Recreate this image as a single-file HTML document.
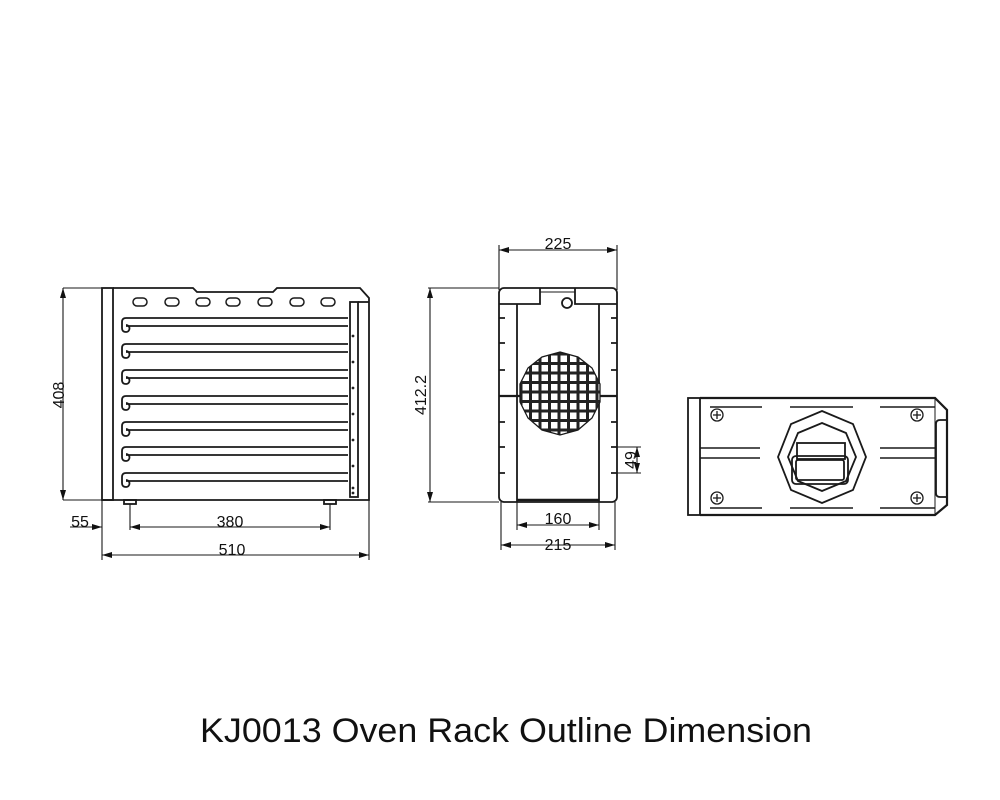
<!DOCTYPE html>
<html><head><meta charset="utf-8"><style>
html,body{margin:0;padding:0;background:#fff;}
svg{display:block}
text{font-family:"Liberation Sans",sans-serif;fill:#111}
</style></head><body>
<svg width="1000" height="800" viewBox="0 0 1000 800" xmlns="http://www.w3.org/2000/svg">
<defs>
<marker id="a" viewBox="0 0 10 6" refX="10" refY="3" markerWidth="10" markerHeight="6" orient="auto-start-reverse" markerUnits="userSpaceOnUse"><path d="M0,0 L10,3 L0,6 z" fill="#111"/></marker>
<pattern id="g" x="521" y="354" width="9.5" height="9.5" patternUnits="userSpaceOnUse"><rect width="9.5" height="9.5" fill="#222"/><rect x="1.5" y="1.5" width="6.5" height="6.5" fill="#fff"/></pattern>
</defs>
<g fill="none" stroke="#1a1a1a" stroke-width="1.8">
<!-- LEFT VIEW -->
<rect x="102" y="288" width="11" height="212"/>
<path d="M113,288 H193 L197,292 H273 L277,288 H360 L369,298 V500 H102"/>
<rect x="350" y="302" width="8" height="195"/>
<path d="M358,302 H369"/>
<g stroke-width="1.5">
<rect x="133" y="298" width="14" height="8" rx="4"/><rect x="165" y="298" width="14" height="8" rx="4"/><rect x="196" y="298" width="14" height="8" rx="4"/><rect x="226" y="298" width="14" height="8" rx="4"/><rect x="258" y="298" width="14" height="8" rx="4"/><rect x="290" y="298" width="14" height="8" rx="4"/><rect x="321" y="298" width="14" height="8" rx="4"/>
</g>
<g id="sh" stroke-width="1.8">
<path d="M126,318 H348 M126,318 Q122,318 122,322 V328 Q122,332 126,332 A3.5,3.5 0 0 0 126,325 M126,326 H348"/>
</g>
<use href="#sh" y="26"/><use href="#sh" y="52"/><use href="#sh" y="78"/><use href="#sh" y="104"/><use href="#sh" y="129"/><use href="#sh" y="155"/>
<g fill="#222" stroke="none"><circle cx="353" cy="336" r="1.4"/><circle cx="353" cy="362" r="1.4"/><circle cx="353" cy="388" r="1.4"/><circle cx="353" cy="414" r="1.4"/><circle cx="353" cy="440" r="1.4"/><circle cx="353" cy="466" r="1.4"/><circle cx="353" cy="488" r="1.4"/><circle cx="353" cy="493" r="1.4"/></g>
<rect x="124" y="500" width="12" height="4"/><rect x="324" y="500" width="12" height="4"/>
<!-- dims left -->
<g stroke-width="1.1">
<path d="M63,288 H103 M63,500 H102"/>
<path d="M63,288 V500" marker-start="url(#a)" marker-end="url(#a)"/>
<path d="M102,500 V560 M369,500 V560 M130,504 V530 M330,504 V530"/>
<path d="M70,527 H102" marker-end="url(#a)"/>
<path d="M130,527 H330" marker-start="url(#a)" marker-end="url(#a)"/>
<path d="M102,555 H369" marker-start="url(#a)" marker-end="url(#a)"/>
</g>
<!-- MIDDLE VIEW -->
<rect x="499" y="288" width="118" height="214" rx="5"/>
<path d="M517,304 V502 M599,304 V502 M499,304 H540 V288 M575,288 V304 H617"/>
<path d="M540,292 H575" stroke-width="1"/>
<circle cx="567" cy="303" r="5"/>
<path d="M499,396 H617" stroke-width="2.2"/>
<path d="M499,318 h6 M499,343 h6 M499,370 h6 M499,422 h6 M499,447 h6 M499,473 h6 M611,318 h6 M611,343 h6 M611,370 h6 M611,422 h6 M611,447 h6 M611,473 h6"/>
<path d="M517,500 H599" stroke-width="2.5"/>
<polygon points="560,352 578,357 592,368 600,384 600,402 592,418 578,430 560,435 542,430 528,418 520,402 520,384 528,368 542,357" fill="url(#g)" stroke-width="1.3"/>
<g stroke-width="1.1">
<path d="M499,245 V290 M617,245 V290"/>
<path d="M499,250 H617" marker-start="url(#a)" marker-end="url(#a)"/>
<path d="M428,288 H499 M428,502 H499"/>
<path d="M430,288 V502" marker-start="url(#a)" marker-end="url(#a)"/>
<path d="M517,502 V530 M599,502 V530 M501,502 V550 M615,502 V550"/>
<path d="M517,525 H599" marker-start="url(#a)" marker-end="url(#a)"/>
<path d="M501,545 H615" marker-start="url(#a)" marker-end="url(#a)"/>
<path d="M617,447 H641 M617,473 H641"/>
<path d="M637,447 V473" marker-start="url(#a)" marker-end="url(#a)"/>
</g>
<!-- RIGHT VIEW -->
<rect x="688" y="398" width="12" height="117"/>
<path d="M700,398 H935 L947,410 V505 L935,515 H700" stroke-width="2.2"/>
<path d="M947,420 H940 Q936,420 936,424 V493 Q936,497 940,497 H947" />
<path d="M935,398 V515" stroke-width="1"/>
<g stroke-width="1.5">
<path d="M710,407 H762 M790,407 H853 M880,407 H935 M710,508 H762 M790,508 H853 M880,508 H935"/>
<path d="M700,448 H760 M880,448 H935 M700,458 H760 M880,458 H935"/>
</g>
<g stroke-width="1.3">
<circle cx="717" cy="415" r="6"/><circle cx="917" cy="415" r="6"/><circle cx="717" cy="498" r="6"/><circle cx="917" cy="498" r="6"/>
<path d="M713,415 h8 M717,411 v8 M913,415 h8 M917,411 v8 M713,498 h8 M717,494 v8 M913,498 h8 M917,494 v8"/>
</g>
<polygon points="822,411 853,424 866,457 853,490 822,503 791,490 778,457 791,424"/>
<polygon points="822,423 846,433 856,457 846,481 822,491 798,481 788,457 798,433"/>
<rect x="797" y="443" width="48" height="16"/>
<rect x="792" y="456" width="56" height="28" rx="4"/>
<rect x="796" y="460" width="48" height="20" rx="2"/>
</g>
<!-- labels -->
<g font-size="16">
<text x="60" y="395" text-anchor="middle" transform="rotate(-90 60 395)" dominant-baseline="middle">408</text>
<text x="80" y="527" text-anchor="middle">55</text>
<text x="230" y="527" text-anchor="middle">380</text>
<text x="232" y="555" text-anchor="middle">510</text>
<text x="558" y="249" text-anchor="middle">225</text>
<text x="422" y="395" text-anchor="middle" transform="rotate(-90 422 395)" dominant-baseline="middle">412.2</text>
<text x="558" y="524" text-anchor="middle">160</text>
<text x="558" y="550" text-anchor="middle">215</text>
<text x="632" y="460" text-anchor="middle" transform="rotate(-90 632 460)" dominant-baseline="middle">49</text>
</g>
<text x="200" y="742" font-size="34" textLength="612" lengthAdjust="spacingAndGlyphs">KJ0013 Oven Rack Outline Dimension</text>
</svg>
</body></html>
